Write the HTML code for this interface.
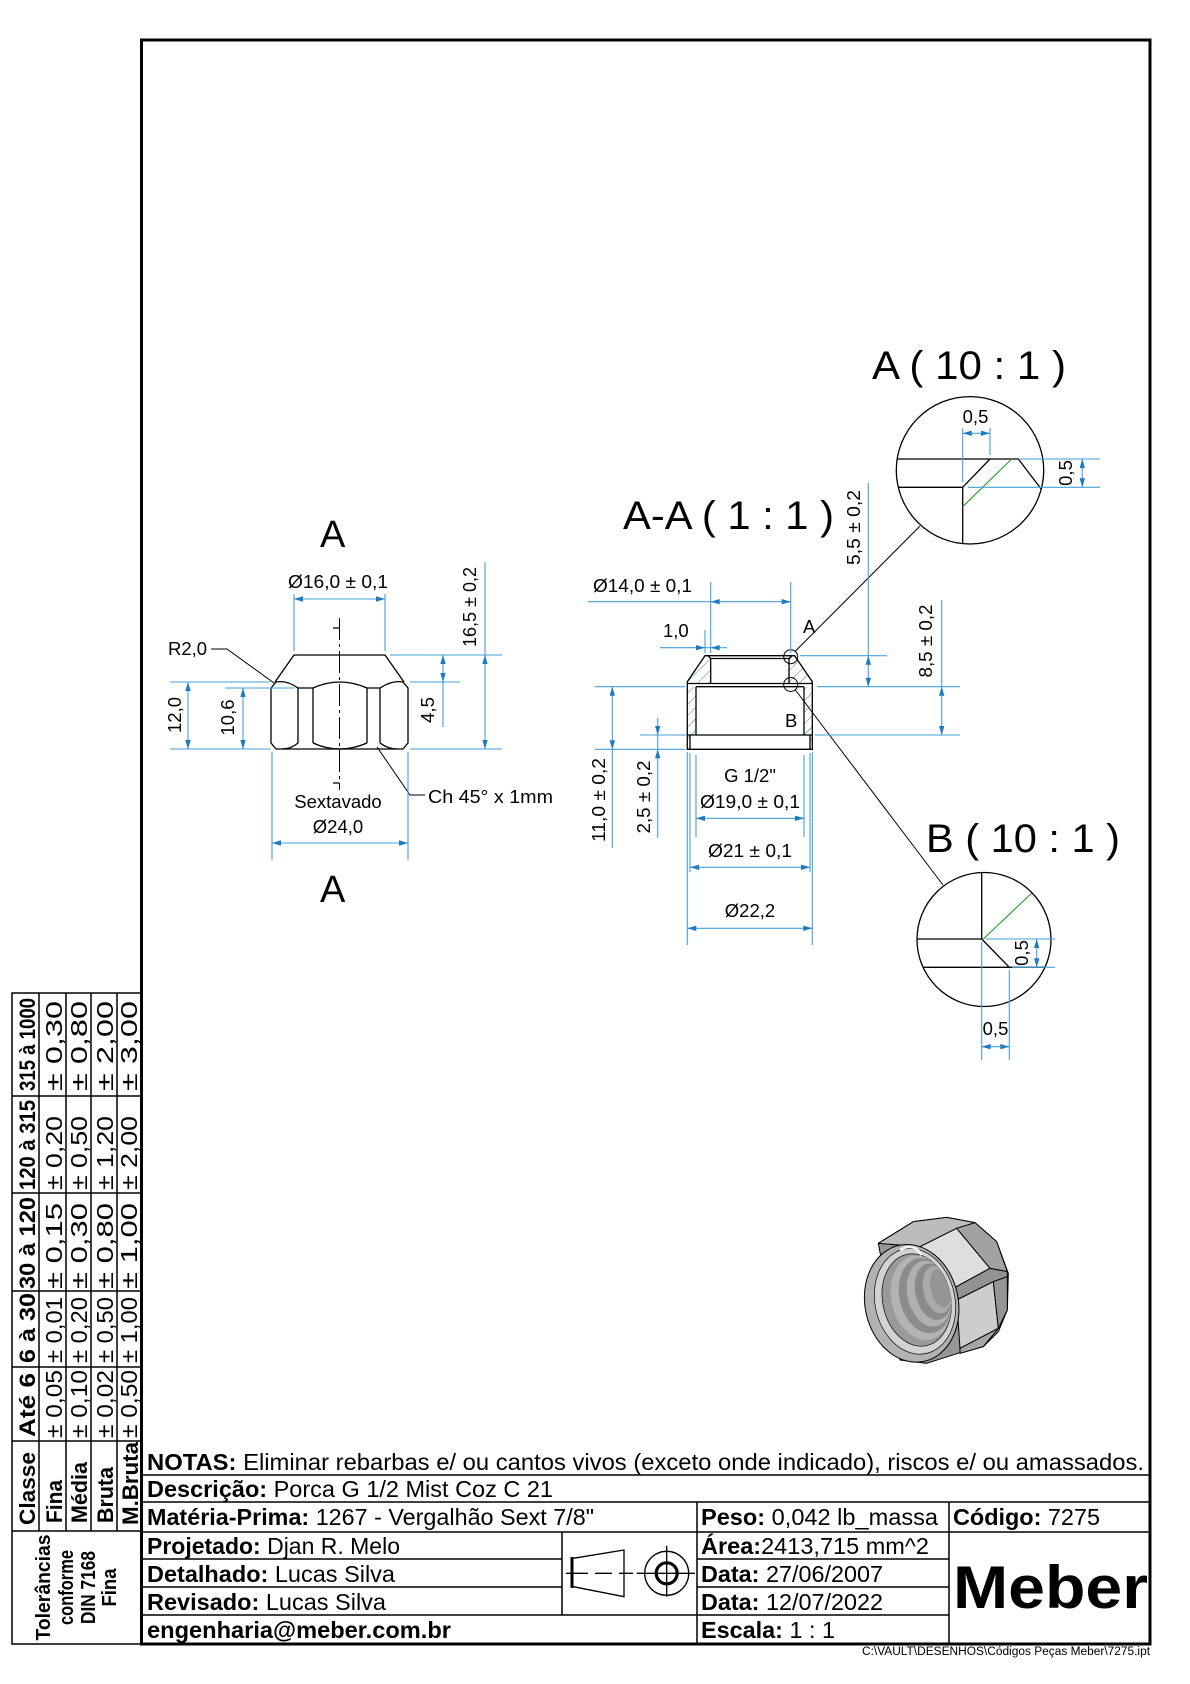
<!DOCTYPE html>
<html>
<head>
<meta charset="utf-8">
<style>
html,body{margin:0;padding:0;background:#fff;}
svg{display:block;}
.k{stroke:#000;fill:none;stroke-width:1.3;}
.d{stroke:#45a1da;fill:none;stroke-width:1.1;}
.t{font-family:"Liberation Sans",Arial,sans-serif;fill:#000;}
</style>
</head>
<body>
<svg width="1190" height="1684" viewBox="0 0 1190 1684" xmlns="http://www.w3.org/2000/svg" xmlns:xlink="http://www.w3.org/1999/xlink" font-family="'Liberation Sans', Arial, sans-serif">
<defs>
<path id="ah" d="M0,0 L-9,-2.7 L-9,2.7 Z" fill="#1c7cc2"/>
<pattern id="hatch" patternUnits="userSpaceOnUse" width="8" height="8" patternTransform="rotate(45)">
<line x1="0" y1="0" x2="0" y2="8" stroke="#3a9a3a" stroke-width="1"/>
</pattern>
<clipPath id="cA"><circle cx="970" cy="470.3" r="73.7"/></clipPath>
<clipPath id="cB"><circle cx="984" cy="939.5" r="67"/></clipPath>
<clipPath id="hole"><ellipse cx="200" cy="300" rx="102" ry="140" transform="rotate(-12 200 300)"/></clipPath>
</defs>

<rect x="0" y="0" width="1190" height="1684" fill="#fff"/>

<!-- Frame -->
<rect x="141.5" y="40" width="1008.5" height="1604" fill="none" stroke="#000" stroke-width="3"/>

<!-- ================= LEFT VIEW ================= -->
<text x="320" y="547" font-size="38" class="t">A</text>
<text x="320" y="902" font-size="38" class="t">A</text>

<!-- Nut -->
<path class="k" d="M275,682 L294,655 L385,655 L404,682"/>
<path class="k" d="M271,688 L276,682 Q287,680 298,688 L313,688 Q339.5,676 367,688 L380,688 Q392,680 403,682 L408,688 L408,743 L403,749 L276,749 L271,743 Z"/>
<path class="k" d="M298,688 L298,743 M313,688 L313,743 M367,688 L367,743 M380,688 L380,743"/>
<path class="k" d="M298,743 Q291,749 282,749 M313,743 Q339.5,755 367,743 M380,743 Q388,749 397,749"/>
<path d="M339.5,618 L339.5,790" stroke="#000" stroke-width="1" stroke-dasharray="22,4,3,4" fill="none"/>
<path class="k" d="M333,628 L339.5,628 M333,783 L339.5,783"/>

<!-- leaders -->
<path stroke="#000" stroke-width="1" fill="none" d="M211,649 L227,649 L274,683"/>
<path stroke="#000" stroke-width="1" fill="none" d="M377,747 L410,795 L425,795"/>
<text x="168" y="655" font-size="18.5" class="t">R2,0</text>
<text x="428" y="803" font-size="18.5" class="t" textLength="125" lengthAdjust="spacingAndGlyphs">Ch 45° x 1mm</text>

<!-- dims left -->
<g class="d">
<path d="M294,599 L385,599 M294,594 L294,651 M385,594 L385,651"/>
<path d="M188,682 L188,749 M170,682 L270,682 M170,749 L270,749"/>
<path d="M243,688 L243,749 M225,688 L294,688"/>
<path d="M443,655 L443,727 M390,655 L502,655 M410,682 L460,682"/>
<path d="M485,562 L485,749 M410,749 L502,749"/>
<path d="M272,843 L408,843 M272,752 L272,860 M408,752 L408,860"/>
</g>
<use xlink:href="#ah" transform="translate(294 599) rotate(180)"/>
<use xlink:href="#ah" transform="translate(385 599)"/>
<use xlink:href="#ah" transform="translate(188 682) rotate(-90)"/>
<use xlink:href="#ah" transform="translate(188 749) rotate(90)"/>
<use xlink:href="#ah" transform="translate(243 688) rotate(-90)"/>
<use xlink:href="#ah" transform="translate(243 749) rotate(90)"/>
<use xlink:href="#ah" transform="translate(443 655) rotate(-90)"/>
<use xlink:href="#ah" transform="translate(443 682) rotate(90)"/>
<use xlink:href="#ah" transform="translate(485 655) rotate(-90)"/>
<use xlink:href="#ah" transform="translate(485 749) rotate(90)"/>
<use xlink:href="#ah" transform="translate(272 843) rotate(180)"/>
<use xlink:href="#ah" transform="translate(408 843)"/>

<text x="288" y="588" font-size="18.5" class="t" textLength="100" lengthAdjust="spacingAndGlyphs">Ø16,0 ± 0,1</text>
<text transform="translate(181 715) rotate(-90)" text-anchor="middle" font-size="18.5" class="t">12,0</text>
<text transform="translate(234 717.5) rotate(-90)" text-anchor="middle" font-size="18.5" class="t">10,6</text>
<text transform="translate(434 710) rotate(-90)" text-anchor="middle" font-size="18.5" class="t">4,5</text>
<text transform="translate(476 607) rotate(-90)" text-anchor="middle" font-size="18.5" class="t" textLength="80" lengthAdjust="spacingAndGlyphs">16,5 ± 0,2</text>
<text x="338" y="808" text-anchor="middle" font-size="18.5" class="t">Sextavado</text>
<text x="338" y="833" text-anchor="middle" font-size="18.5" class="t">Ø24,0</text>

<!-- ================= SECTION VIEW ================= -->
<text x="623" y="529" font-size="40" class="t" textLength="211" lengthAdjust="spacingAndGlyphs">A-A ( 1 : 1 )</text>

<!-- hatch -->
<g fill="url(#hatch)" stroke="none">
<polygon points="705,655.7 707.9,655.7 710.7,658.5 710.7,683.5 687.3,683.5 687.3,681.7"/>
<polygon points="794.6,655.7 791.8,655.7 789,658.5 789,683.5 812.3,683.5 812.3,681.7"/>
<polygon points="687.3,686.7 696,686.7 696,735 687.3,735"/>
<polygon points="804,686.7 812.3,686.7 812.3,735 804,735"/>
<polygon points="687.3,735 690,735 690,749.3 687.3,749.3"/>
<polygon points="810,735 812.3,735 812.3,749.3 810,749.3"/>
</g>
<path class="k" d="M705,655.7 L794.6,655.7 L812.3,681.7 L812.3,749.3 L687.3,749.3 L687.3,681.7 Z"/>
<path class="k" d="M707.9,655.7 L710.7,658.5 L789,658.5 L791.8,655.7 M710.7,658.5 L710.7,683.5 M789,658.5 L789,683.5"/>
<path class="k" d="M687.3,683.5 L812.3,683.5 M696,686.7 L804,686.7 M696,686.7 L696,735 M804,686.7 L804,735 M687.3,735 L812.3,735 M690,735 L690,749.3 M810,735 L810,749.3"/>
<circle cx="790.7" cy="656.7" r="7" fill="none" stroke="#000" stroke-width="1"/>
<circle cx="790.7" cy="684.5" r="7" fill="none" stroke="#000" stroke-width="1"/>
<text x="803" y="633" font-size="18.5" class="t">A</text>
<text x="785" y="727" font-size="18.5" class="t">B</text>
<path d="M795,651.5 L920,526" stroke="#000" stroke-width="1" fill="none"/>
<path d="M795,689.5 L943,885" stroke="#000" stroke-width="1" fill="none"/>

<g class="d">
<path d="M588,601.7 L790.7,601.7 M710.7,582 L710.7,653 M790.7,582 L790.7,653"/>
<path d="M660,647.7 L727,647.7 M705,630 L705,653"/>
<path d="M868.3,483 L868.3,686.7 M800,655.7 L887,655.7 M817,686.7 L960,686.7"/>
<path d="M941.7,600 L941.7,735 M815,735 L960,735 M640,735 L686,735"/>
<path d="M612.3,686.7 L612.3,848 M595,686.7 L685,686.7 M595,749.3 L685,749.3"/>
<path d="M657.7,718 L657.7,838"/>
<path d="M696,818.3 L804,818.3 M696,755 L696,837 M804,755 L804,837"/>
<path d="M690,867.3 L810,867.3 M690,753 L690,872 M810,753 L810,872"/>
<path d="M687.3,928.3 L812.3,928.3 M687.3,752 L687.3,945 M812.3,752 L812.3,945"/>
</g>
<use xlink:href="#ah" transform="translate(710.7 601.7) rotate(180)"/>
<use xlink:href="#ah" transform="translate(790.7 601.7)"/>
<use xlink:href="#ah" transform="translate(705 647.7)"/>
<use xlink:href="#ah" transform="translate(710.7 647.7) rotate(180)"/>
<use xlink:href="#ah" transform="translate(868.3 655.7) rotate(-90)"/>
<use xlink:href="#ah" transform="translate(868.3 686.7) rotate(90)"/>
<use xlink:href="#ah" transform="translate(941.7 686.7) rotate(-90)"/>
<use xlink:href="#ah" transform="translate(941.7 735) rotate(90)"/>
<use xlink:href="#ah" transform="translate(612.3 686.7) rotate(-90)"/>
<use xlink:href="#ah" transform="translate(612.3 749.3) rotate(90)"/>
<use xlink:href="#ah" transform="translate(657.7 735) rotate(90)"/>
<use xlink:href="#ah" transform="translate(657.7 749.3) rotate(-90)"/>
<use xlink:href="#ah" transform="translate(696 818.3) rotate(180)"/>
<use xlink:href="#ah" transform="translate(804 818.3)"/>
<use xlink:href="#ah" transform="translate(690 867.3) rotate(180)"/>
<use xlink:href="#ah" transform="translate(810 867.3)"/>
<use xlink:href="#ah" transform="translate(687.3 928.3) rotate(180)"/>
<use xlink:href="#ah" transform="translate(812.3 928.3)"/>

<text x="593" y="592" font-size="18.5" class="t" textLength="99" lengthAdjust="spacingAndGlyphs">Ø14,0 ± 0,1</text>
<text x="663" y="637" font-size="18.5" class="t">1,0</text>
<text transform="translate(860 527.5) rotate(-90)" text-anchor="middle" font-size="18.5" class="t" textLength="75" lengthAdjust="spacingAndGlyphs">5,5 ± 0,2</text>
<text transform="translate(932 641) rotate(-90)" text-anchor="middle" font-size="18.5" class="t" textLength="73" lengthAdjust="spacingAndGlyphs">8,5 ± 0,2</text>
<text transform="translate(605 800) rotate(-90)" text-anchor="middle" font-size="18.5" class="t" textLength="84" lengthAdjust="spacingAndGlyphs">11,0 ± 0,2</text>
<text transform="translate(650 797) rotate(-90)" text-anchor="middle" font-size="18.5" class="t" textLength="73" lengthAdjust="spacingAndGlyphs">2,5 ± 0,2</text>
<text x="750" y="782" text-anchor="middle" font-size="18.5" class="t">G 1/2"</text>
<text x="750" y="808" text-anchor="middle" font-size="18.5" class="t" textLength="100" lengthAdjust="spacingAndGlyphs">Ø19,0 ± 0,1</text>
<text x="750" y="857" text-anchor="middle" font-size="18.5" class="t" textLength="84" lengthAdjust="spacingAndGlyphs">Ø21 ± 0,1</text>
<text x="750" y="917" text-anchor="middle" font-size="18.5" class="t">Ø22,2</text>

<!-- ================= DETAIL A ================= -->
<text x="872" y="379" font-size="40" class="t" textLength="194" lengthAdjust="spacingAndGlyphs">A ( 10 : 1 )</text>
<g clip-path="url(#cA)">
<path class="k" d="M890,459 L1018.3,459 L1045,494 M890,487.3 L962.7,487.3 L962.7,550 M962.7,487.3 L990,459"/>
<path d="M962.7,506.7 L1011.7,459" stroke="#2a9d2a" stroke-width="1.1" fill="none"/>
</g>
<circle cx="970" cy="470.3" r="73.7" fill="none" stroke="#000" stroke-width="1.3"/>
<g class="d">
<path d="M962.7,433.3 L990,433.3 M962.7,428 L962.7,482 M990,428 L990,455"/>
<path d="M1082.3,459 L1082.3,487.3 M1020,459 L1100,459 M968,487.3 L1100,487.3"/>
</g>
<use xlink:href="#ah" transform="translate(962.7 433.3) rotate(180)"/>
<use xlink:href="#ah" transform="translate(990 433.3)"/>
<use xlink:href="#ah" transform="translate(1082.3 459) rotate(-90)"/>
<use xlink:href="#ah" transform="translate(1082.3 487.3) rotate(90)"/>
<text x="975.5" y="423" text-anchor="middle" font-size="18.5" class="t">0,5</text>
<text transform="translate(1072 473) rotate(-90)" text-anchor="middle" font-size="18.5" class="t">0,5</text>

<!-- ================= DETAIL B ================= -->
<text x="926" y="852" font-size="40" class="t" textLength="194" lengthAdjust="spacingAndGlyphs">B ( 10 : 1 )</text>
<g clip-path="url(#cB)">
<path class="k" d="M981.7,865 L981.7,939 L910,939 M981.7,939 L1009.3,967.3 M910,967.3 L1060,967.3"/>
<path d="M983.3,939 L1035,890" stroke="#2a9d2a" stroke-width="1.1" fill="none"/>
</g>
<circle cx="984" cy="939.5" r="67" fill="none" stroke="#000" stroke-width="1.3"/>
<g class="d">
<path d="M1036.7,939 L1036.7,967.3 M986,939 L1055,939 M1012,967.3 L1055,967.3"/>
<path d="M981.7,1046.7 L1009.3,1046.7 M981.7,942 L981.7,1060 M1009.3,970 L1009.3,1060"/>
</g>
<use xlink:href="#ah" transform="translate(1036.7 939) rotate(-90)"/>
<use xlink:href="#ah" transform="translate(1036.7 967.3) rotate(90)"/>
<use xlink:href="#ah" transform="translate(981.7 1046.7) rotate(180)"/>
<use xlink:href="#ah" transform="translate(1009.3 1046.7)"/>
<text transform="translate(1028 953) rotate(-90)" text-anchor="middle" font-size="18.5" class="t">0,5</text>
<text x="995.5" y="1035" text-anchor="middle" font-size="18.5" class="t">0,5</text>

<!-- ================= 3D NUT ================= -->
<g transform="translate(850 1200) scale(0.33333)" stroke="#000" stroke-width="3" stroke-linejoin="round">
<path d="M85,130 L190,65 L290,52 L375,68 L440,125 L475,220 L472,330 L445,395 L400,440 L330,458 L230,490 L150,480 Z" fill="#969696"/>
<path d="M85,130 L190,65 L290,52 L375,68 L320,85 L210,140 Z" fill="#bcbcbc"/>
<path d="M210,140 L320,85 L420,205 L310,265 Z" fill="#dedede"/>
<path d="M320,85 L375,68 L440,125 L472,215 L420,205 Z" fill="#a2a2a2"/>
<path d="M310,265 L420,205 L472,215 L472,230 L430,245 L320,300 Z" fill="#929292"/>
<path d="M320,300 L430,245 L445,385 L330,445 Z" fill="#cdcdcd"/>
<path d="M430,245 L472,230 L472,330 L445,385 Z" fill="#959595"/>
<path d="M330,445 L445,385 L400,440 L330,460 Z" fill="#a5a5a5"/>
<ellipse cx="185" cy="310" rx="140" ry="178" transform="rotate(-12 185 310)" fill="#b2b2b2"/>
<ellipse cx="195" cy="304" rx="120" ry="160" transform="rotate(-12 195 304)" fill="#d2d2d2" stroke-width="2"/>
<ellipse cx="200" cy="300" rx="102" ry="140" transform="rotate(-12 200 300)" fill="#9a9a9a" stroke-width="2"/>
<g clip-path="url(#hole)" stroke="none">
<ellipse cx="214" cy="293" rx="90" ry="128" transform="rotate(-12 214 293)" fill="#b3b3b3"/>
<ellipse cx="226" cy="287" rx="78" ry="114" transform="rotate(-12 226 287)" fill="#8c8c8c"/>
<ellipse cx="238" cy="281" rx="66" ry="100" transform="rotate(-12 238 281)" fill="#b0b0b0"/>
<ellipse cx="250" cy="275" rx="54" ry="86" transform="rotate(-12 250 275)" fill="#8a8a8a"/>
<ellipse cx="262" cy="269" rx="42" ry="72" transform="rotate(-12 262 269)" fill="#aaaaaa"/>
<ellipse cx="272" cy="264" rx="30" ry="58" transform="rotate(-12 272 264)" fill="#959595"/>
</g>
<path d="M150,150 Q190,125 215,165" fill="none" stroke="#f4f4f4" stroke-width="8"/>
</g>

<!-- ================= TOLERANCE TABLE ================= -->
<g stroke="#000" stroke-width="1.5" fill="none">
<rect x="12" y="993" width="129" height="651"/>
<path d="M39,993 L39,1531 M66,993 L66,1531 M91,993 L91,1531 M117,993 L117,1531"/>
<path d="M12,1096 L141,1096 M12,1193 L141,1193 M12,1291 L141,1291 M12,1367 L141,1367 M12,1441 L141,1441 M12,1531 L141,1531"/>
</g>
<g class="t">
<text transform="translate(35 1091) rotate(-90)" font-size="22" font-weight="bold" textLength="93" lengthAdjust="spacingAndGlyphs">315 à 1000</text>
<text transform="translate(62 1091) rotate(-90)" font-size="23" textLength="90" lengthAdjust="spacingAndGlyphs">± 0,30</text>
<text transform="translate(87 1091) rotate(-90)" font-size="23" textLength="90" lengthAdjust="spacingAndGlyphs">± 0,80</text>
<text transform="translate(113 1091) rotate(-90)" font-size="23" textLength="90" lengthAdjust="spacingAndGlyphs">± 2,00</text>
<text transform="translate(137 1091) rotate(-90)" font-size="23" textLength="90" lengthAdjust="spacingAndGlyphs">± 3,00</text>
<text transform="translate(35 1190) rotate(-90)" font-size="22" font-weight="bold" textLength="90" lengthAdjust="spacingAndGlyphs">120 à 315</text>
<text transform="translate(62 1190) rotate(-90)" font-size="23" textLength="74" lengthAdjust="spacingAndGlyphs">± 0,20</text>
<text transform="translate(87 1190) rotate(-90)" font-size="23" textLength="74" lengthAdjust="spacingAndGlyphs">± 0,50</text>
<text transform="translate(113 1190) rotate(-90)" font-size="23" textLength="74" lengthAdjust="spacingAndGlyphs">± 1,20</text>
<text transform="translate(137 1190) rotate(-90)" font-size="23" textLength="74" lengthAdjust="spacingAndGlyphs">± 2,00</text>
<text transform="translate(35 1289) rotate(-90)" font-size="22" font-weight="bold" textLength="92" lengthAdjust="spacingAndGlyphs">30 à 120</text>
<text transform="translate(62 1289) rotate(-90)" font-size="23" textLength="86" lengthAdjust="spacingAndGlyphs">± 0,15</text>
<text transform="translate(87 1289) rotate(-90)" font-size="23" textLength="86" lengthAdjust="spacingAndGlyphs">± 0,30</text>
<text transform="translate(113 1289) rotate(-90)" font-size="23" textLength="86" lengthAdjust="spacingAndGlyphs">± 0,80</text>
<text transform="translate(137 1289) rotate(-90)" font-size="23" textLength="86" lengthAdjust="spacingAndGlyphs">± 1,00</text>
<text transform="translate(35 1363) rotate(-90)" font-size="22" font-weight="bold" textLength="70" lengthAdjust="spacingAndGlyphs">6 à 30</text>
<text transform="translate(62 1363) rotate(-90)" font-size="23" textLength="66" lengthAdjust="spacingAndGlyphs">± 0,01</text>
<text transform="translate(87 1363) rotate(-90)" font-size="23" textLength="66" lengthAdjust="spacingAndGlyphs">± 0,20</text>
<text transform="translate(113 1363) rotate(-90)" font-size="23" textLength="66" lengthAdjust="spacingAndGlyphs">± 0,50</text>
<text transform="translate(137 1363) rotate(-90)" font-size="23" textLength="66" lengthAdjust="spacingAndGlyphs">± 1,00</text>
<text transform="translate(35 1437) rotate(-90)" font-size="22" font-weight="bold" textLength="64" lengthAdjust="spacingAndGlyphs">Até 6</text>
<text transform="translate(62 1438) rotate(-90)" font-size="23" textLength="68" lengthAdjust="spacingAndGlyphs">± 0,05</text>
<text transform="translate(87 1438) rotate(-90)" font-size="23" textLength="68" lengthAdjust="spacingAndGlyphs">± 0,10</text>
<text transform="translate(113 1438) rotate(-90)" font-size="23" textLength="68" lengthAdjust="spacingAndGlyphs">± 0,02</text>
<text transform="translate(137 1438) rotate(-90)" font-size="23" textLength="68" lengthAdjust="spacingAndGlyphs">± 0,50</text>
<text transform="translate(35 1525) rotate(-90)" font-size="22" font-weight="bold" textLength="73" lengthAdjust="spacingAndGlyphs">Classe</text>
<text transform="translate(62 1523) rotate(-90)" font-size="22" font-weight="bold" textLength="43" lengthAdjust="spacingAndGlyphs">Fina</text>
<text transform="translate(87 1523) rotate(-90)" font-size="22" font-weight="bold" textLength="61" lengthAdjust="spacingAndGlyphs">Média</text>
<text transform="translate(113 1523) rotate(-90)" font-size="22" font-weight="bold" textLength="56" lengthAdjust="spacingAndGlyphs">Bruta</text>
<text transform="translate(138 1525) rotate(-90)" font-size="22" font-weight="bold" textLength="83" lengthAdjust="spacingAndGlyphs">M.Bruta</text>
<text transform="translate(50 1587.5) rotate(-90)" text-anchor="middle" font-size="20" font-weight="bold" textLength="106" lengthAdjust="spacingAndGlyphs">Tolerâncias</text>
<text transform="translate(73 1587.5) rotate(-90)" text-anchor="middle" font-size="20" font-weight="bold" textLength="75" lengthAdjust="spacingAndGlyphs">conforme</text>
<text transform="translate(95 1587.5) rotate(-90)" text-anchor="middle" font-size="20" font-weight="bold" textLength="73" lengthAdjust="spacingAndGlyphs">DIN 7168</text>
<text transform="translate(116 1587.5) rotate(-90)" text-anchor="middle" font-size="20" font-weight="bold" textLength="38" lengthAdjust="spacingAndGlyphs">Fina</text>
</g>

<!-- ================= TITLE BLOCK ================= -->
<g stroke="#000" stroke-width="1.5" fill="none">
<path d="M141,1475 L1150,1475 M141,1502 L1150,1502 M141,1532 L1150,1532"/>
<path d="M141,1559 L562,1559 M141,1587 L562,1587 M141,1615 L697,1615"/>
<path d="M697,1559 L949,1559 M697,1587 L949,1587 M697,1615 L949,1615"/>
<path d="M697,1502 L697,1644 M949,1502 L949,1644 M562,1532 L562,1615"/>
</g>

<g class="t" font-size="23">
<text x="147" y="1470" textLength="997" lengthAdjust="spacingAndGlyphs"><tspan font-weight="bold">NOTAS:</tspan> Eliminar rebarbas e/ ou cantos vivos (exceto onde indicado), riscos e/ ou amassados.</text>
<text x="147" y="1497" textLength="406" lengthAdjust="spacingAndGlyphs"><tspan font-weight="bold">Descrição:</tspan> Porca G 1/2 Mist Coz C 21</text>
<text x="147" y="1525" textLength="447" lengthAdjust="spacingAndGlyphs"><tspan font-weight="bold">Matéria-Prima:</tspan> 1267 - Vergalhão Sext 7/8"</text>
<text x="147" y="1554" textLength="253" lengthAdjust="spacingAndGlyphs"><tspan font-weight="bold">Projetado:</tspan> Djan R. Melo</text>
<text x="147" y="1582" textLength="248" lengthAdjust="spacingAndGlyphs"><tspan font-weight="bold">Detalhado:</tspan> Lucas Silva</text>
<text x="147" y="1610" textLength="239" lengthAdjust="spacingAndGlyphs"><tspan font-weight="bold">Revisado:</tspan> Lucas Silva</text>
<text x="147" y="1638" font-weight="bold" textLength="304" lengthAdjust="spacingAndGlyphs">engenharia@meber.com.br</text>
<text x="701" y="1525" textLength="237" lengthAdjust="spacingAndGlyphs"><tspan font-weight="bold">Peso:</tspan> 0,042 lb_massa</text>
<text x="953" y="1525" textLength="147" lengthAdjust="spacingAndGlyphs"><tspan font-weight="bold">Código:</tspan> 7275</text>
<text x="701" y="1554" textLength="228" lengthAdjust="spacingAndGlyphs"><tspan font-weight="bold">Área:</tspan>2413,715 mm^2</text>
<text x="701" y="1582" textLength="182" lengthAdjust="spacingAndGlyphs"><tspan font-weight="bold">Data:</tspan> 27/06/2007</text>
<text x="701" y="1610" textLength="182" lengthAdjust="spacingAndGlyphs"><tspan font-weight="bold">Data:</tspan> 12/07/2022</text>
<text x="701" y="1638" textLength="134" lengthAdjust="spacingAndGlyphs"><tspan font-weight="bold">Escala:</tspan> 1 : 1</text>
</g>
<text x="953" y="1608" class="t" font-size="60" font-weight="bold" textLength="195" lengthAdjust="spacingAndGlyphs">Meber</text>
<text x="862" y="1655" class="t" font-size="11.5" textLength="288" lengthAdjust="spacingAndGlyphs">C:\VAULT\DESENHOS\Códigos Peças Meber\7275.ipt</text>

<!-- projection symbol -->
<g stroke="#000" fill="none">
<path stroke-width="1.3" d="M573.3,1558.3 L624,1550 L624,1596.7 L573.3,1586.7"/>
<path stroke-width="3" d="M572,1557 L572,1588"/>
<path stroke-width="1.3" d="M566,1573.3 L588,1573.3 M595,1573.3 L612,1573.3 M619,1573.3 L633,1573.3 M636.7,1573.3 L695,1573.3 M666.7,1545.7 L666.7,1596.7"/>
<circle cx="666.7" cy="1573.3" r="22" stroke-width="1.3"/>
<circle cx="666.7" cy="1573.3" r="10.5" stroke-width="3.2"/>
</g>

</svg>
</body>
</html>
